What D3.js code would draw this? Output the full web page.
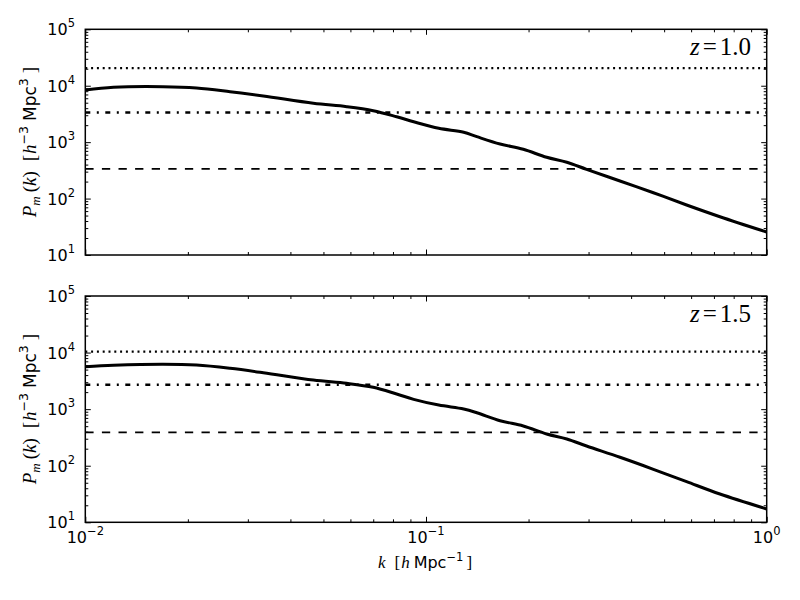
<!DOCTYPE html>
<html><head><meta charset="utf-8">
<script src="https://cdn.jsdelivr.net/npm/d3@7"></script>
<style>body{margin:0;background:#fff}</style>
</head><body>
<svg id="c" width="800" height="600" xmlns="http://www.w3.org/2000/svg"></svg>
<script>
// ---- data ----
const kValues = [0.010, 0.0121, 0.0169, 0.0212, 0.0266, 0.0333, 0.0467, 0.0585, 0.070, 0.082, 0.092, 0.109, 0.129, 0.141, 0.165, 0.193, 0.226, 0.259, 0.296, 0.371, 0.465, 0.582, 0.729, 1.0];
const pZ10 = [8400, 9380, 9610, 9120, 7840, 6580, 4880, 4250, 3610, 2820, 2300, 1760, 1500, 1250, 927, 747, 539, 440, 330, 205, 127, 77, 47.7, 25.5];
const pZ15 = [5620, 5950, 6210, 6010, 5270, 4410, 3270, 2860, 2430, 1850, 1490, 1180, 1005, 865, 625, 504, 364, 297, 223, 141, 86.5, 52.2, 31.6, 17.2];
const redshifts = ["1.0", "1.5"];
const noiseZ10 = [20500, 3350, 335];
const noiseZ15 = [10400, 2700, 390];
const noiseKinds = ["dotted", "dashdot", "dashed"];
const yTickExps = [1, 2, 3, 4, 5];
const xTickExps = [-2, -1, 0];

// ---- layout ----
const svg = d3.select("#c");
const L = 85.3, R = 766.7;
const panels = [
  {top: 29.3, bottom: 255, P: pZ10, noise: noiseZ10, z: redshifts[0], xlabels: false},
  {top: 296, bottom: 522.3, P: pZ15, noise: noiseZ15, z: redshifts[1], xlabels: true}
];
const x = d3.scaleLog().domain([1e-2, 1]).range([L, R]);
const dashes = {dotted: "2,3.8", dashdot: "5,6.5,2,6.5", dashed: "8.3,8.3"};
const widths = {dotted: 2.2, dashdot: 2.6, dashed: 1.8};
const serif = "'Liberation Serif', 'DejaVu Serif', serif";
const sans = "'DejaVu Sans', sans-serif";

const xMajor = xTickExps.map(e => Math.pow(10, e));
const xMinor = [];
[-2, -1].forEach(e => { for (let m = 2; m <= 9; m++) xMinor.push(m * Math.pow(10, e)); });
const yMajor = yTickExps.map(e => Math.pow(10, e));
const yMinor = [];
[1, 2, 3, 4].forEach(e => { for (let m = 2; m <= 9; m++) yMinor.push(m * Math.pow(10, e)); });

function supLabel(g, xPos, yPos, anchor, base, exp) {
  const t = g.append("text").attr("x", xPos).attr("y", yPos)
    .attr("text-anchor", anchor).attr("font-family", sans).attr("font-size", 16).attr("fill", "#000");
  t.append("tspan").text(base);
  t.append("tspan").attr("dy", -8).attr("font-size", 11.5).text(exp);
}

panels.forEach((p, i) => {
  const y = d3.scaleLog().domain([10, 1e5]).range([p.bottom, p.top]);
  const g = svg.append("g");
  const clipId = "clip" + i;
  svg.append("clipPath").attr("id", clipId).append("rect")
    .attr("x", L).attr("y", p.top).attr("width", R - L).attr("height", p.bottom - p.top);

  // noise levels
  const pg = g.append("g").attr("clip-path", `url(#${clipId})`);
  p.noise.forEach((v, j) => {
    const kind = noiseKinds[j];
    pg.append("line").attr("x1", x(1e-2)).attr("x2", x(1)).attr("y1", y(v)).attr("y2", y(v))
      .attr("stroke", "#000").attr("stroke-width", widths[kind]).attr("stroke-dasharray", dashes[kind]);
  });
  // power spectrum
  const line = d3.line().x((d, j) => x(kValues[j])).y(d => y(d)).curve(d3.curveCatmullRom.alpha(0.5));
  pg.append("path").datum(p.P).attr("d", line).attr("fill", "none")
    .attr("stroke", "#000").attr("stroke-width", 3).attr("stroke-linejoin", "round");

  // ticks (inside, all four sides)
  const mk = (axisFn, scale, vals, size, tr) => {
    const a = g.append("g").attr("transform", tr)
      .call(axisFn(scale).tickValues(vals).tickSize(-size).tickFormat(""));
    a.select(".domain").remove();
    a.selectAll("line").attr("stroke", "#000").attr("stroke-width", 1);
  };
  mk(d3.axisBottom, x, xMajor, 5.5, `translate(0,${p.bottom})`);
  mk(d3.axisBottom, x, xMinor, 3, `translate(0,${p.bottom})`);
  mk(d3.axisTop, x, xMajor, 5.5, `translate(0,${p.top})`);
  mk(d3.axisTop, x, xMinor, 3, `translate(0,${p.top})`);
  mk(d3.axisLeft, y, yMajor, 5.5, `translate(${L},0)`);
  mk(d3.axisLeft, y, yMinor, 3, `translate(${L},0)`);
  mk(d3.axisRight, y, yMajor, 5.5, `translate(${R},0)`);
  mk(d3.axisRight, y, yMinor, 3, `translate(${R},0)`);

  // frame
  g.append("rect").attr("x", L).attr("y", p.top).attr("width", R - L).attr("height", p.bottom - p.top)
    .attr("fill", "none").attr("stroke", "#000").attr("stroke-width", 1.5);

  // y tick labels
  yTickExps.forEach(e => supLabel(g, 75, y(Math.pow(10, e)) + 6, "end", "10", String(e)));
  if (p.xlabels) {
    xTickExps.forEach(e => supLabel(g, x(Math.pow(10, e)), p.bottom + 21, "middle", "10", e < 0 ? "\u2212" + (-e) : String(e)));
  }

  // y axis label
  const cy = (p.top + p.bottom) / 2;
  const yl = g.append("text").attr("transform", `translate(36,${cy}) rotate(-90)`)
    .attr("text-anchor", "middle").attr("font-size", 19).attr("fill", "#000").attr("font-family", serif);
  yl.append("tspan").attr("font-style", "italic").text("P");
  yl.append("tspan").attr("font-style", "italic").attr("font-size", 13).attr("dy", 4).text("m");
  yl.append("tspan").attr("dy", -4).attr("dx", 4).text("(");
  yl.append("tspan").attr("font-style", "italic").text("k");
  yl.append("tspan").text(")");
  yl.append("tspan").attr("dx", 10).text("[");
  yl.append("tspan").attr("font-style", "italic").attr("dx", 1).text("h");
  yl.append("tspan").attr("font-size", 12.5).attr("font-family", sans).attr("dy", -8).text("\u22123");
  yl.append("tspan").attr("font-family", sans).attr("font-size", 17).attr("dy", 8).attr("dx", 5).text("Mpc");
  yl.append("tspan").attr("font-size", 12.5).attr("font-family", sans).attr("dy", -8).text("3");
  yl.append("tspan").attr("dy", 8).attr("dx", 5).text("]");

  // redshift label
  const zl = g.append("text").attr("x", 751).attr("y", p.top + 26).attr("text-anchor", "end")
    .attr("font-family", serif).attr("font-size", 25).attr("fill", "#000");
  zl.append("tspan").attr("font-style", "italic").text("z");
  zl.append("tspan").attr("dx", 3).text("=");
  zl.append("tspan").attr("dx", 3).text(p.z);
});

// x axis label
const xl = svg.append("text").attr("x", 425).attr("y", 568).attr("text-anchor", "middle")
  .attr("font-size", 17).attr("fill", "#000").attr("font-family", serif);
xl.append("tspan").attr("font-style", "italic").text("k");
xl.append("tspan").attr("dx", 9).text("[");
xl.append("tspan").attr("font-style", "italic").attr("dx", 1).text("h");
xl.append("tspan").attr("dx", 4).attr("font-family", sans).attr("font-size", 16).text("Mpc");
xl.append("tspan").attr("font-family", sans).attr("font-size", 11.5).attr("dy", -7).text("\u22121");
xl.append("tspan").attr("dy", 7).attr("dx", 3).text("]");
</script>
</body></html>
